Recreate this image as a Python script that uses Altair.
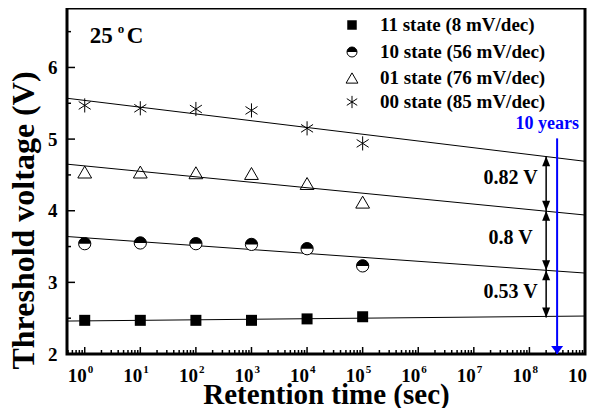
import altair as alt
import pandas as pd

# ---- data ----
time_s = [1, 10, 100, 1000, 10000, 100000]
v11 = [2.47, 2.47, 2.47, 2.47, 2.49, 2.52]
v10 = [3.54, 3.55, 3.54, 3.53, 3.47, 3.23]
v01 = [4.54, 4.54, 4.53, 4.52, 4.38, 4.12]
v00 = [5.47, 5.43, 5.42, 5.40, 5.15, 4.94]

fit_x = [0.48, 1e9]
fit11 = [2.46, 2.53]
fit10 = [3.64, 3.13]
fit01 = [4.65, 3.94]
fit00 = [5.57, 4.69]

legend_labels = ["11 state (8 mV/dec)", "10 state (56 mV/dec)",
                 "01 state (76 mV/dec)", "00 state (85 mV/dec)"]

arrow_x = 2.0e8
arrow_levels = [4.76, 4.00, 3.17, 2.51]
gap_labels = ["0.82 V", "0.8 V", "0.53 V"]
gap_label_y = [4.46, 3.62, 2.87]
gap_label_x = 4.6e7

ten_years = 3.15e8
ten_years_top = 5.01

x_decades = [10.0 ** k for k in range(0, 10)]
x_exponents = [str(k) for k in range(0, 10)]
x_major = [10.0 ** k for k in range(0, 9)]
x_minor = [m * 10.0 ** k for k in range(-1, 9) for m in range(2, 10) if 0.48 < m * 10.0 ** k < 1e9]
y_major = [2, 3, 4, 5, 6]
y_minor = [2.5, 3.5, 4.5, 5.5, 6.5]

W, H = 518, 346
FONT = "Liberation Serif"

xs = alt.Scale(type="log", domain=[0.48, 1e9], nice=False)
ys = alt.Scale(domain=[2, 6.83], nice=False, zero=False)

X_AXIS = alt.Axis(
    values=x_decades, labels=False,
    title="Retention time (sec)", titleFont=FONT, titleFontSize=29, titleFontWeight="bold",
    titleY=49, titleBaseline="alphabetic", ticks=False, tickSize=0, domain=False,
    grid=False, titleColor="black")
Y_AXIS = alt.Axis(
    values=y_major, title="Threshold voltage (V)", titleFont=FONT, titleFontSize=32,
    titleFontWeight="bold", titleX=-34, titleY=212, titleBaseline="alphabetic",
    labelFont=FONT, labelFontSize=19, labelFontWeight="bold", labelPadding=10,
    ticks=False, tickSize=0, domain=False, grid=False, labelColor="black",
    titleColor="black")

def xq():
    return alt.X("t:Q", scale=xs, axis=X_AXIS)

def yq():
    return alt.Y("v:Q", scale=ys, axis=Y_AXIS)

layers = []

half_top = "M-1,0A1,1 0 0 1 1,0Z"
asterisk = "M0,-1L0,1M-0.85,-0.55L0.85,0.55M-0.85,0.55L0.85,-0.55"

d11 = pd.DataFrame({"t": time_s, "v": v11})
d10 = pd.DataFrame({"t": time_s, "v": v10})
d01 = pd.DataFrame({"t": time_s, "v": v01})
d00 = pd.DataFrame({"t": time_s, "v": v00})

# fit lines
for fy in [fit11, fit10, fit01, fit00]:
    df = pd.DataFrame({"t": fit_x, "v": fy})
    layers.append(alt.Chart(df).mark_line(color="black", strokeWidth=1).encode(x=xq(), y=yq()))

layers.append(alt.Chart(d11).mark_point(shape="square", filled=True, color="black", size=121, opacity=1).encode(x=xq(), y=yq()))
layers.append(alt.Chart(d10).mark_point(shape="circle", filled=True, fill="white", stroke="black", strokeWidth=1, size=150, opacity=1).encode(x=xq(), y=yq()))
layers.append(alt.Chart(d10).mark_point(shape=half_top, filled=True, fill="black", size=150, opacity=1).encode(x=xq(), y=yq()))
layers.append(alt.Chart(d01).mark_point(shape="triangle-up", filled=False, color="black", strokeWidth=1, size=190, opacity=1).encode(x=xq(), y=yq()))
layers.append(alt.Chart(d00).mark_point(shape=asterisk, filled=False, color="black", strokeWidth=1, size=200, opacity=1).encode(x=xq(), y=yq()))

# inward ticks
tick_xM = pd.DataFrame({"t": x_major})
tick_xm = pd.DataFrame({"t": x_minor})
layers.append(alt.Chart(tick_xM).mark_rule(color="black", strokeWidth=1.5).encode(
    x=xq(), y=alt.value(H), y2=alt.YValue(H - 7)))
layers.append(alt.Chart(tick_xm).mark_rule(color="black", strokeWidth=1.5).encode(
    x=xq(), y=alt.value(H), y2=alt.YValue(H - 4)))
tick_y_major = pd.DataFrame({"v": y_major})
tick_y_minor = pd.DataFrame({"v": y_minor})
layers.append(alt.Chart(tick_y_major).mark_rule(color="black", strokeWidth=1.5).encode(
    y=yq(), x=alt.value(0), x2=alt.XValue(8)))
layers.append(alt.Chart(tick_y_minor).mark_rule(color="black", strokeWidth=1.5).encode(
    y=yq(), x=alt.value(0), x2=alt.XValue(4)))

# x tick labels: 10 with superscript exponent
xl = pd.DataFrame({"t": x_decades, "e": x_exponents})
layers.append(alt.Chart(xl).mark_text(font=FONT, fontSize=19, fontWeight="bold", color="black",
                                      align="right", baseline="middle", text="10", dx=2).encode(
    x=xq(), y=alt.value(H + 22)))
layers.append(alt.Chart(xl).mark_text(font=FONT, fontSize=11, fontWeight="bold", color="black",
                                      align="left", baseline="middle", dx=3).encode(
    x=xq(), y=alt.value(H + 16), text="e:N"))

# black double arrows
arr = pd.DataFrame({"t": [arrow_x], "v": [arrow_levels[0]], "v2": [arrow_levels[-1]]})
layers.append(alt.Chart(arr).mark_rule(color="black", strokeWidth=1.5).encode(
    x=xq(), y=yq(), y2="v2:Q"))
up_head = "M0,0L-0.4,1L0.4,1Z"
down_head = "M0,0L-0.4,-1L0.4,-1Z"
ups = pd.DataFrame({"t": [arrow_x] * 3, "v": arrow_levels[:-1]})
downs = pd.DataFrame({"t": [arrow_x] * 3, "v": arrow_levels[1:]})
layers.append(alt.Chart(ups).mark_point(shape=up_head, filled=True, color="black", size=400, opacity=1).encode(x=xq(), y=yq()))
layers.append(alt.Chart(downs).mark_point(shape=down_head, filled=True, color="black", size=400, opacity=1).encode(x=xq(), y=yq()))

gl = pd.DataFrame({"t": [gap_label_x] * 3, "v": gap_label_y, "lab": gap_labels})
layers.append(alt.Chart(gl).mark_text(font=FONT, fontSize=20, fontWeight="bold", color="black",
                                      align="center", baseline="middle").encode(x=xq(), y=yq(), text="lab:N"))

# blue 10-year marker
blue = pd.DataFrame({"t": [ten_years], "v": [ten_years_top], "v2": [2.0]})
layers.append(alt.Chart(blue).mark_rule(color="#0000ff", strokeWidth=2).encode(x=xq(), y=yq(), y2="v2:Q"))
bh = pd.DataFrame({"t": [ten_years], "v": [2.0]})
layers.append(alt.Chart(bh).mark_point(shape="M0,0L-0.75,-1L0.75,-1Z", filled=True, color="#0000ff", size=256, opacity=1).encode(x=xq(), y=yq()))
bt = pd.DataFrame({"t": [2.1e8], "v": [5.21], "lab": ["10 years"]})
layers.append(alt.Chart(bt).mark_text(font=FONT, fontSize=18, fontWeight="bold", color="#0000ff",
                                      align="center", baseline="middle").encode(x=xq(), y=yq(), text="lab:N"))

# temperature label
temp = pd.DataFrame({"t": [1.23], "v": [6.44]})
layers.append(alt.Chart(temp).mark_text(font=FONT, fontSize=23, fontWeight="bold", color="black",
                                        align="left", baseline="middle", text="25").encode(x=xq(), y=yq()))
layers.append(alt.Chart(temp).mark_text(font=FONT, fontSize=13, fontWeight="bold", color="black",
                                        align="left", baseline="middle", text="o", dx=28, dy=-7).encode(x=xq(), y=yq()))
layers.append(alt.Chart(temp).mark_text(font=FONT, fontSize=23, fontWeight="bold", color="black",
                                        align="left", baseline="middle", text="C", dx=37).encode(x=xq(), y=yq()))

# legend (manual)
leg_y = [17, 44, 70, 94]
sym_x = 285
text_x = 313
one = pd.DataFrame({"a": [0]})
layers.append(alt.Chart(one).mark_point(shape="square", filled=True, color="black", size=90, opacity=1).encode(
    x=alt.value(sym_x), y=alt.value(leg_y[0])))
layers.append(alt.Chart(one).mark_point(shape="circle", filled=True, fill="white", stroke="black", strokeWidth=1, size=100, opacity=1).encode(
    x=alt.value(sym_x), y=alt.value(leg_y[1])))
layers.append(alt.Chart(one).mark_point(shape=half_top, filled=True, fill="black", size=100, opacity=1).encode(
    x=alt.value(sym_x), y=alt.value(leg_y[1])))
layers.append(alt.Chart(one).mark_point(shape="triangle-up", filled=False, color="black", strokeWidth=1, size=140, opacity=1).encode(
    x=alt.value(sym_x), y=alt.value(leg_y[2])))
layers.append(alt.Chart(one).mark_point(shape=asterisk, filled=False, color="black", strokeWidth=1, size=150, opacity=1).encode(
    x=alt.value(sym_x), y=alt.value(leg_y[3])))
for lab, ly in zip(legend_labels, leg_y):
    layers.append(alt.Chart(one).mark_text(font=FONT, fontSize=19, fontWeight="bold", color="black",
                                           align="left", baseline="middle", text=lab).encode(
        x=alt.value(text_x), y=alt.value(ly)))

chart = alt.layer(*layers).properties(
    width=W, height=H,
    autosize=alt.AutoSizeParams(type="none"),
    padding={"left": 59, "top": 0, "right": 3, "bottom": 54},
).configure(background="white").configure_view(stroke="black", strokeWidth=3)

chart.save("out.html", embed_options={"renderer": "svg", "actions": False})
